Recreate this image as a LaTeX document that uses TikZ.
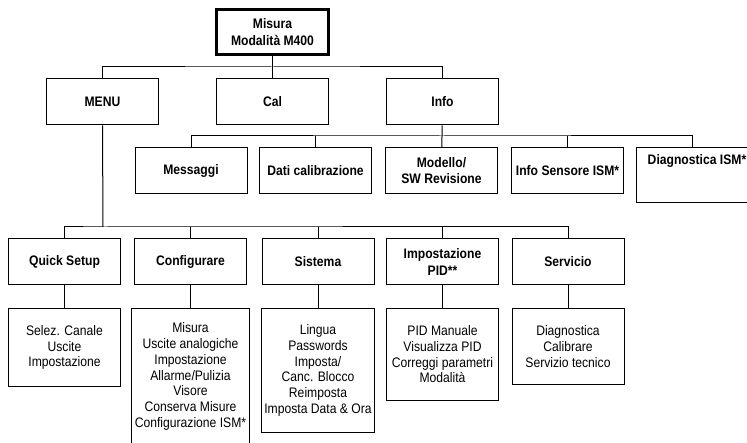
\documentclass[tikz,border=0pt]{standalone}
\usepackage{fontspec}
\setmainfont{Liberation Sans}[FakeStretch=0.88]
\begin{document}
\begin{tikzpicture}[x=1pt,y=-1pt,line width=1pt,
  menubox/.style={draw, align=center, font=\fontsize{13.8}{16.5}\selectfont\bfseries, minimum width=112pt, minimum height=46pt},
  listbox/.style={draw, align=center, font=\fontsize{13.8}{15.7}\selectfont, minimum width=112pt, anchor=north}]
\useasboundingbox (0,0) rectangle (747,443);
\clip (0,0) rectangle (747,443);

\node[menubox, line width=3pt, minimum width=112pt, minimum height=45pt] (mode) at (272.5,32) {Misura\\Modalità M400};

\node[menubox] (menu) at (102.5,102) {MENU};
\node[menubox] (cal) at (272.5,102) {Cal};
\node[menubox] (info) at (442.5,102) {Info};

\node[menubox] (msg) at (191,170.5) {Messaggi};
\node[menubox] (calib) at (315.5,170.5) {Dati calibrazione};
\node[menubox] (model) at (441.5,170.5) {Modello/\\SW Revisione};
\node[menubox] (sensor) at (567.5,170.5) {Info Sensore ISM*};
\node[menubox, minimum width=122pt, minimum height=55pt, text height=9.5pt, text depth=31pt] (diag) at (697,175) {Diagnostica ISM*};

\node[menubox] (quick) at (64.5,262) {Quick Setup};
\node[menubox] (config) at (190.5,262) {Configurare};
\node[menubox] (system) at (318,262) {Sistema};
\node[menubox] (pid) at (442.5,262) {Impostazione\\PID**};
\node[menubox] (service) at (568,262) {Servicio};

\node[listbox, minimum height=78pt] (quicklist) at (64.5,308) {Selez. Canale\\Uscite\\Impostazione};
\node[listbox, minimum height=136pt] (configlist) at (190.5,308) {Misura\\Uscite analogiche\\Impostazione\\Allarme/Pulizia\\Visore\\Conserva Misure\\Configurazione ISM*};
\node[listbox, minimum height=124pt] (systemlist) at (318,308) {Lingua\\Passwords\\Imposta/\\Canc. Blocco\\Reimposta\\Imposta Data \& Ora};
\node[listbox, minimum height=92pt] (pidlist) at (442.5,308) {PID Manuale\\Visualizza PID\\Correggi parametri\\Modalità};
\node[listbox, minimum height=76pt] (servicelist) at (568,308) {Diagnostica\\Calibrare\\Servizio tecnico};

\coordinate (bus1) at (272.5,67);
\coordinate (bus2) at (442,136);
\coordinate (bus3) at (103,227);

\draw (mode) -- (cal);
\draw (menu.north) |- (bus1) -| (info.north);

\draw (info) -- (model);
\draw (msg.north) |- (bus2) -| ([xshift=-5pt]diag.north);
\draw (calib.north) -- (calib.north |- bus2);
\draw (sensor.north) -- (sensor.north |- bus2);

\draw (menu.south) -- (bus3);
\draw (quick.north) |- (bus3) -| (service.north);
\draw (config.north) -- (config.north |- bus3);
\draw (system.north) -- (system.north |- bus3);
\draw (pid.north) -- (pid.north |- bus3);

\draw (quick) -- (quicklist);
\draw (config) -- (configlist);
\draw (system) -- (systemlist);
\draw (pid) -- (pidlist);
\draw (service) -- (servicelist);
\end{tikzpicture}
\end{document}
